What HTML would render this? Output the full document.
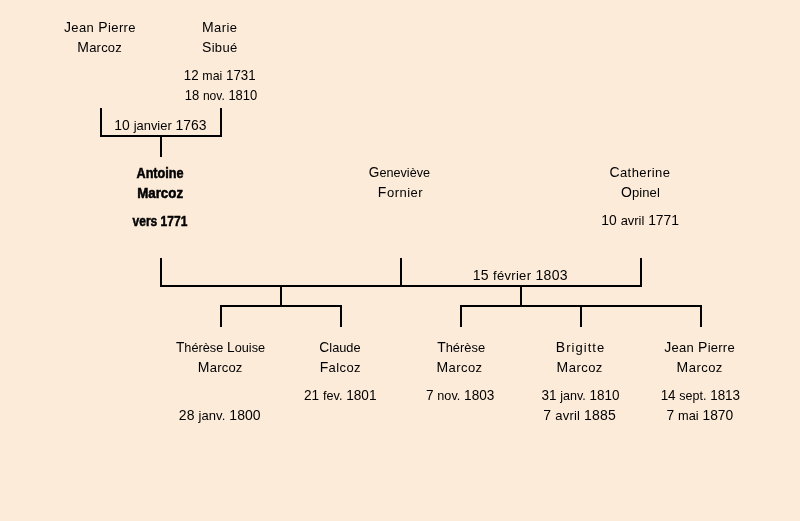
<!DOCTYPE html>
<html><head><meta charset="utf-8"><style>
html,body{margin:0;padding:0;background:#FCEBD9;}
#c{position:relative;width:800px;height:521px;overflow:hidden;background:#FCEBD9;font-family:"Liberation Sans",sans-serif;font-size:14px;line-height:20px;color:#000;}
.t{position:absolute;width:300px;text-align:center;white-space:nowrap;height:20px;}
.t span{display:inline-block;transform-origin:50% 50%;filter:grayscale(1);}
.b{font-weight:bold;-webkit-text-stroke:0.5px #000;}
.t i{font-style:normal;font-size:13px;}
.l{position:absolute;background:#000;}
</style></head><body><div id="c">
<div class="l" style="left:100px;top:108px;width:2px;height:29px"></div>
<div class="l" style="left:220px;top:108px;width:2px;height:29px"></div>
<div class="l" style="left:100px;top:135px;width:122px;height:2px"></div>
<div class="l" style="left:160px;top:135px;width:2px;height:22px"></div>
<div class="l" style="left:160px;top:258px;width:2px;height:29px"></div>
<div class="l" style="left:400px;top:258px;width:2px;height:29px"></div>
<div class="l" style="left:640px;top:258px;width:2px;height:29px"></div>
<div class="l" style="left:160px;top:285px;width:482px;height:2px"></div>
<div class="l" style="left:280px;top:285px;width:2px;height:22px"></div>
<div class="l" style="left:220px;top:305px;width:122px;height:2px"></div>
<div class="l" style="left:220px;top:305px;width:2px;height:22px"></div>
<div class="l" style="left:340px;top:305px;width:2px;height:22px"></div>
<div class="l" style="left:520px;top:285px;width:2px;height:22px"></div>
<div class="l" style="left:460px;top:305px;width:242px;height:2px"></div>
<div class="l" style="left:460px;top:305px;width:2px;height:22px"></div>
<div class="l" style="left:580px;top:305px;width:2px;height:22px"></div>
<div class="l" style="left:700px;top:305px;width:2px;height:22px"></div>
<div class="t" style="left:-50.08px;top:17.38px"><span style="transform:scaleX(1.0000);letter-spacing:0.354px">J<i>ean</i> P<i>ierre</i></span></div>
<div class="t" style="left:-50.36px;top:37.38px"><span style="transform:scaleX(1.0000);letter-spacing:0.202px">M<i>arcoz</i></span></div>
<div class="t" style="left:69.69px;top:17.38px"><span style="transform:scaleX(1.0000);letter-spacing:0.386px">M<i>arie</i></span></div>
<div class="t" style="left:69.81px;top:37.38px"><span style="transform:scaleX(1.0000);letter-spacing:0.360px">S<i>ibué</i></span></div>
<div class="t" style="left:70.07px;top:65.38px"><span style="transform:scaleX(0.9514)">12 <i>mai</i> 1731</span></div>
<div class="t" style="left:70.65px;top:85.38px"><span style="transform:scaleX(0.9276)">18 <i>nov.</i> 1810</span></div>
<div class="t" style="left:10.35px;top:115.38px"><span style="transform:scaleX(0.9921)">10 <i>janvier</i> 1763</span></div>
<div class="t b" style="left:10.53px;top:163.38px"><span style="transform:scaleX(0.9048)">Antoine</span></div>
<div class="t b" style="left:9.75px;top:183.38px"><span style="transform:scaleX(0.9515)">Marcoz</span></div>
<div class="t b" style="left:9.54px;top:211.38px"><span style="transform:scaleX(0.8584)">vers 1771</span></div>
<div class="t" style="left:249.67px;top:162.38px"><span style="transform:scaleX(0.9725)">G<i>eneviève</i></span></div>
<div class="t" style="left:250.51px;top:182.38px"><span style="transform:scaleX(1.0000);letter-spacing:0.496px">F<i>ornier</i></span></div>
<div class="t" style="left:489.91px;top:162.38px"><span style="transform:scaleX(1.0000);letter-spacing:0.438px">C<i>atherine</i></span></div>
<div class="t" style="left:490.46px;top:182.38px"><span style="transform:scaleX(1.0000);letter-spacing:0.113px">O<i>pinel</i></span></div>
<div class="t" style="left:490.46px;top:210.38px"><span style="transform:scaleX(0.9910)">10 <i>avril</i> 1771</span></div>
<div class="t" style="left:370.28px;top:265.38px"><span style="transform:scaleX(1.0000);letter-spacing:0.297px">15 <i>février</i> 1803</span></div>
<div class="t" style="left:70.90px;top:337.38px"><span style="transform:scaleX(0.9789)">T<i>hérèse</i> L<i>ouise</i></span></div>
<div class="t" style="left:70.20px;top:357.38px"><span style="transform:scaleX(1.0000);letter-spacing:0.225px">M<i>arcoz</i></span></div>
<div class="t" style="left:69.79px;top:405.38px"><span style="transform:scaleX(1.0000);letter-spacing:0.068px">28 <i>janv.</i> 1800</span></div>
<div class="t" style="left:189.74px;top:337.38px"><span style="transform:scaleX(0.9834)">C<i>laude</i></span></div>
<div class="t" style="left:190.29px;top:357.38px"><span style="transform:scaleX(1.0000);letter-spacing:0.399px">F<i>alcoz</i></span></div>
<div class="t" style="left:190.40px;top:385.38px"><span style="transform:scaleX(0.9741)">21 <i>fev.</i> 1801</span></div>
<div class="t" style="left:310.81px;top:337.38px"><span style="transform:scaleX(0.9917)">T<i>hérèse</i></span></div>
<div class="t" style="left:309.47px;top:357.38px"><span style="transform:scaleX(1.0000);letter-spacing:0.431px">M<i>arcoz</i></span></div>
<div class="t" style="left:310.51px;top:385.38px"><span style="transform:scaleX(0.9721)">7 <i>nov.</i> 1803</span></div>
<div class="t" style="left:430.53px;top:337.38px"><span style="transform:scaleX(1.0000);letter-spacing:1.053px">B<i>rigitte</i></span></div>
<div class="t" style="left:429.70px;top:357.38px"><span style="transform:scaleX(1.0000);letter-spacing:0.458px">M<i>arcoz</i></span></div>
<div class="t" style="left:430.36px;top:385.38px"><span style="transform:scaleX(0.9649)">31 <i>janv.</i> 1810</span></div>
<div class="t" style="left:429.61px;top:405.38px"><span style="transform:scaleX(1.0000);letter-spacing:0.182px">7 <i>avril</i> 1885</span></div>
<div class="t" style="left:549.56px;top:337.38px"><span style="transform:scaleX(1.0000);letter-spacing:0.260px">J<i>ean</i> P<i>ierre</i></span></div>
<div class="t" style="left:549.70px;top:357.38px"><span style="transform:scaleX(1.0000);letter-spacing:0.458px">M<i>arcoz</i></span></div>
<div class="t" style="left:550.36px;top:385.38px"><span style="transform:scaleX(0.9607)">14 <i>sept.</i> 1813</span></div>
<div class="t" style="left:549.55px;top:405.38px"><span style="transform:scaleX(0.9849)">7 <i>mai</i> 1870</span></div>
</div></body></html>
